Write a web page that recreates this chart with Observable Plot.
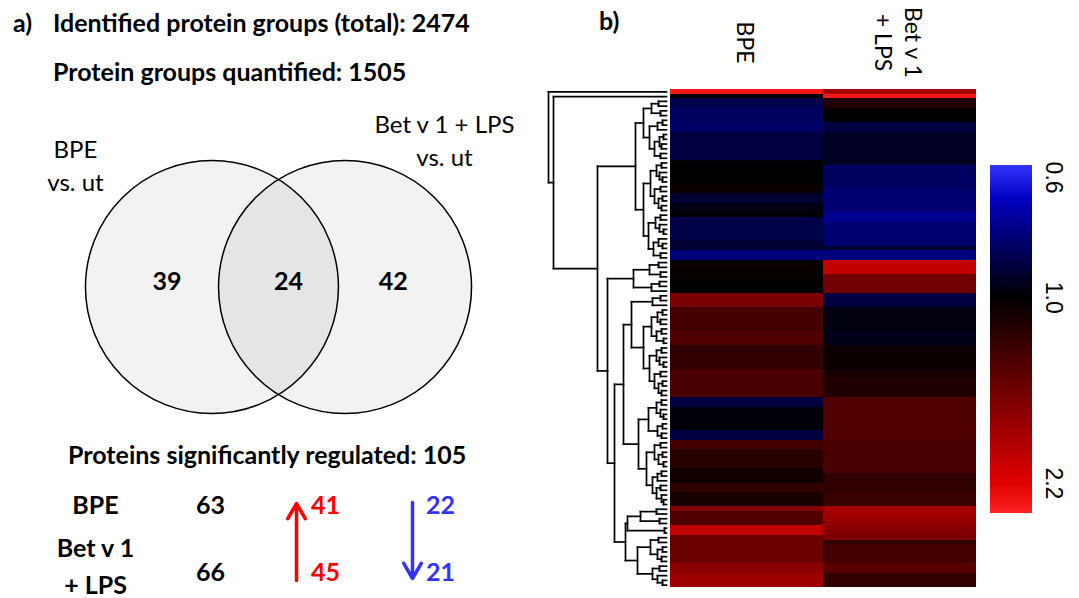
<!DOCTYPE html>
<html>
<head>
<meta charset="utf-8">
<script src="https://cdn.jsdelivr.net/npm/d3@7"></script>
<script src="https://cdn.jsdelivr.net/npm/@observablehq/plot@0.6"></script>
<style>
  html, body { margin: 0; padding: 0; background: #fff; }
  #fig { position: relative; width: 1079px; height: 598px; overflow: hidden; font-family: Lato, sans-serif; color: #000; }
  .t { position: absolute; white-space: pre; font-weight: bold; font-size: 25px; line-height: 1; }
  #fig svg { position: absolute; top: 0; max-width: none; }
</style>
</head>
<body>
<div id="fig"></div>
<script>
// ---------------- data ----------------
const identifiedTotal = 2474;
const quantifiedTotal = 1505;
const significantTotal = 105;

const vennSets = ["BPE\nvs. ut", "Bet v 1 + LPS\nvs. ut"];
const vennRegions = ["BPE only", "both", "Bet v 1 + LPS only"];
const vennCounts = [39, 24, 42];

const regTreatments = ["BPE", "Bet v 1\n+ LPS"];
const regColumns = ["treatment", "total", "up", "down"];
const regTotal = [63, 66];
const regUp = [41, 45];
const regDown = [22, 21];

const heatColumns = ["BPE", "Bet v 1\n+ LPS"];
// fold change per protein (rows top to bottom)
const bpeFold = [
  2.4, 1.0, 0.85, 0.85, 0.82, 0.81, 0.81, 0.80, 0.80,
  0.87, 0.87, 0.87, 0.87, 0.87, 0.87,
  0.99, 1.0, 1.0, 1.01, 1.0, 1.04, 1.04, 0.90, 0.90, 0.96, 0.96, 1.0,
  0.86, 0.86, 0.86, 0.86, 0.86, 0.90, 0.90, 0.77, 0.77,
  1.04, 1.04, 1.03, 1.02, 1.0, 1.0, 1.0,
  1.54, 1.54, 1.52, 1.26, 1.26, 1.26, 1.26, 1.26, 1.33, 1.33, 1.33,
  1.19, 1.19, 1.19, 1.19, 1.19, 1.30, 1.30, 1.30, 1.30, 1.30, 1.30,
  0.87, 0.87, 0.98, 0.98, 0.98, 0.98, 0.98, 0.87, 0.87,
  1.26, 1.26, 1.15, 1.15, 1.15, 1.15, 1.06, 1.06, 1.06, 1.19, 1.19, 1.09, 1.09, 1.09,
  1.58, 1.33, 1.33, 1.33, 1.99, 1.99,
  1.45, 1.45, 1.45, 1.45, 1.45, 1.45, 1.63, 1.63, 1.73, 1.73, 1.73
];
const betFold = [
  1.78, 2.4, 1.12, 1.12, 1.0, 1.0, 1.0, 0.87, 0.87,
  0.93, 0.93, 0.93, 0.93, 0.93, 0.93, 0.93,
  0.81, 0.81, 0.81, 0.81, 0.81, 0.78, 0.78, 0.78, 0.78, 0.78,
  0.73, 0.73, 0.78, 0.78, 0.78, 0.78, 0.78, 0.90, 0.76, 0.76,
  1.99, 1.99, 1.99, 1.50, 1.50, 1.50, 1.50,
  0.87, 0.87, 0.87, 0.97, 0.97, 0.97, 0.97, 0.97, 0.95, 0.95, 0.95,
  1.04, 1.04, 1.04, 1.04, 1.04, 1.09, 1.09, 1.12, 1.12, 1.12, 1.12,
  1.33, 1.33, 1.33, 1.33, 1.33, 1.33, 1.33, 1.33, 1.33,
  1.30, 1.30, 1.30, 1.30, 1.30, 1.30, 1.30, 1.19, 1.19, 1.19, 1.19, 1.22, 1.22, 1.22,
  1.78, 1.78, 1.72, 1.68, 1.62, 1.58, 1.55, 1.19,
  1.26, 1.26, 1.26, 1.26, 1.37, 1.37, 1.19, 1.19, 1.19
];
// hierarchical clustering: [merge height, left, right]; numbers are row indices
const dendrogram =
[118, 0,
 [113, 1,
  [69,
   [31,
    [23,
     [15, [8, 2, 3], [6, 4, 5]],
     [17, [9, [4, 6, 7], 8], [12, [7, [3, 9, 10], [5, 11, 12]], [6, 13, 14]]]
    ],
    [23,
     [16, [10, [5, 15, 16], [7, 17, [4, 18, 19]]], [12, [6, 20, 21], [8, [4, 22, 23], [5, 24, 25]]]],
     [18, [11, [6, 26, 27], [7, 28, [3, 29, 30]]], [13, [8, 31, [4, 32, 33]], [6, 34, 35]]]
    ]
   ],
   [59,
    [33, [17, [8, 36, 37], [6, 38, 39]], [15, [7, 40, 41], 42]],
    [52,
     [43,
      [35,
       [14, [6, 43, 44], 45],
       [23,
        [15, [9, [4, 46, 47], [6, 48, 49]], [10, [5, 50, 51], [3, 52, 53]]],
        [17, [10, [5, 54, 55], [7, 56, [3, 57, 58]]], [12, [6, 59, 60], [8, [4, 61, 62], [5, 63, 64]]]]
       ]
      ],
      [28,
       [18, [10, [5, 65, 66], [6, 67, [3, 68, 69]]], [9, [4, 70, 71], [5, 72, 73]]],
       [20, [12, [6, 74, 75], [8, [4, 76, 77], [3, 78, 79]]], [14, [9, [5, 80, 81], 82], [10, [6, 83, 84], [5, 85, [3, 86, 87]]]]]
      ]
     ],
     [41,
      [39, [26, [10, 88, 89], [7, 90, 91]], [2, 92, 93]],
      [29, [16, [8, 94, 95], [9, [4, 96, 97], [5, 98, 99]]], [14, [7, 100, 101], [9, 102, [4, 103, 104]]]]
     ]
    ]
   ]
  ]
 ]
];
const colorTicks = [0.6, 1.0, 2.2];
const colorDomain = [0.57, 0.66, 1, 2.2, 2.5];
const colorRange = ["#3333ff", "#0000c0", "#000000", "#e00000", "#ff2222"];

// ---------------- layout ----------------
const fig = document.getElementById("fig");
const FONT = "Lato, sans-serif";
const BOLD = 25;
const place = (svg, left) => { svg.style.left = left + "px"; svg.style.top = "0px"; svg.style.background = "transparent"; svg.style.overflow = "visible"; fig.appendChild(svg); };
const colorScale = {type: "log", domain: colorDomain, range: colorRange, interpolate: "rgb"};

function addText(txt, left, center, size = BOLD) {
  const d = document.createElement("div");
  d.className = "t";
  d.textContent = txt;
  d.style.left = left + "px";
  d.style.top = (center - 0.527 * size) + "px";
  d.style.fontSize = size + "px";
  fig.appendChild(d);
}
addText("a)", 13, 23);
addText(`Identified protein groups (total): ${identifiedTotal}`, 53, 23);
addText(`Protein groups quantified: ${quantifiedTotal}`, 53, 72);
addText("b)", 599, 21);
addText(`Proteins significantly regulated: ${significantTotal}`, 68, 455);

// ---- Venn diagram (units of circle radius) ----
const R = 126.5;
const vennCenters = [-0.526, 0.526];
const vennCountPos = [[-0.881, -0.04], [0.079, -0.04], [0.907, -0.04]];
const vennLabelPos = [[-1.605, -0.972], [1.312, -1.170]];
const venn = Plot.plot({
  width: 540, height: 598, margin: 0,
  x: {domain: [-278 / R, 262 / R], axis: null},
  y: {domain: [-286.5 / R, 311.5 / R], reverse: true, axis: null},
  marks: [
    Plot.dot(vennSets, {x: (d, i) => vennCenters[i], y: () => 0, r: R, fill: "black", fillOpacity: 0.05, stroke: "black", strokeWidth: 1.5}),
    Plot.text(vennCounts, {x: (d, i) => vennCountPos[i][0], y: (d, i) => vennCountPos[i][1], text: d => String(d), fontSize: BOLD, fontWeight: "bold", fontFamily: FONT, fill: "black", lineAnchor: "middle"}),
    Plot.text(vennSets, {x: (d, i) => vennLabelPos[i][0], y: (d, i) => vennLabelPos[i][1], text: d => d, fontSize: 24, lineHeight: 1.375, fontFamily: FONT, fill: "black", lineAnchor: "middle"})
  ]
});
place(venn, 0);

// ---- regulation table ----
const tstyle = {fontSize: BOLD, fontWeight: "bold", fontFamily: FONT, lineAnchor: "middle"};
const tbl = Plot.plot({
  width: 540, height: 598, margin: 0,
  x: {type: "point", domain: regColumns, range: [94, 440], padding: 0, axis: null},
  y: {type: "point", domain: regTreatments, range: [505, 572], padding: 0, axis: null},
  marks: [
    Plot.text([regTreatments[0]], {x: () => "treatment", y: d => d, text: d => d, ...tstyle}),
    Plot.text([regTreatments[1]], {x: () => "treatment", y: d => d, dy: -9, text: d => d, lineHeight: 1.5, ...tstyle}),
    Plot.text(regTreatments, {x: () => "total", y: d => d, text: (d, i) => String(regTotal[i]), ...tstyle}),
    Plot.text(regTreatments, {x: () => "up", y: d => d, text: (d, i) => String(regUp[i]), fill: "#ff0000", ...tstyle}),
    Plot.text(regTreatments, {x: () => "down", y: d => d, text: (d, i) => String(regDown[i]), fill: "#3333ff", ...tstyle}),
    Plot.arrow([{col: "up"}], {x1: d => d.col, x2: d => d.col, y1: () => regTreatments[1], y2: () => regTreatments[0], dx: -29, insetStart: -8, insetEnd: -2, stroke: "#ff0000", strokeWidth: 3.5, headLength: 7.5}),
    Plot.arrow([{col: "down"}], {x1: d => d.col, x2: d => d.col, y1: () => regTreatments[0], y2: () => regTreatments[1], dx: -28, insetStart: -3, insetEnd: -6, stroke: "#3333ff", strokeWidth: 3.5, headLength: 7.5})
  ]
});
place(tbl, 0);

// ---- dendrogram ----
const segs = [];
function walk(node) {
  if (typeof node === "number") return {h: 0, y: node};
  const [h, a, b] = node;
  const A = walk(a), B = walk(b);
  segs.push({x1: h, y1: A.y, x2: h, y2: B.y});
  segs.push({x1: h, y1: A.y, x2: A.h, y2: A.y});
  segs.push({x1: h, y1: B.y, x2: B.h, y2: B.y});
  return {h, y: (A.y + B.y) / 2};
}
walk(dendrogram);
const nRows = bpeFold.length;
const dendro = Plot.plot({
  width: 130, height: 598, marginTop: 89, marginBottom: 11, marginLeft: 8, marginRight: 4,
  x: {domain: [0, 118], reverse: true, axis: null},
  y: {domain: [-0.5, nRows - 0.5], reverse: true, axis: null},
  marks: [
    Plot.link(segs, {x1: "x1", y1: "y1", x2: "x2", y2: "y2", stroke: "black", strokeWidth: 1.7, strokeLinecap: "square"})
  ]
});
place(dendro, 540);

// ---- heatmap ----
const heatData = [];
bpeFold.forEach((v, i) => heatData.push({row: i, col: heatColumns[0], fold: v}));
betFold.forEach((v, i) => heatData.push({row: i, col: heatColumns[1], fold: v}));
const heat = Plot.plot({
  width: 306, height: 598, marginTop: 89, marginBottom: 11, marginLeft: 0, marginRight: 0,
  x: {domain: heatColumns, padding: 0, axis: null},
  y: {domain: d3.range(nRows), padding: 0, axis: null},
  color: colorScale,
  marks: [
    Plot.cell(heatData, {x: "col", y: "row", fill: "fold", inset: 0, shapeRendering: "crispEdges"}),
    Plot.text(heatColumns, {x: d => d, frameAnchor: "top", lineAnchor: "middle", textAnchor: "middle", dy: -47, rotate: 90, text: d => d, fontSize: 23, lineHeight: 1.3, fontFamily: FONT, fill: "black"})
  ]
});
place(heat, 670);

// ---- colour bar ----
const lo = Math.log(colorDomain[0]), hi = Math.log(colorDomain[colorDomain.length - 1]);
const N = 174;
const ramp = d3.range(N).map(k => ({
  y1: Math.exp(lo + (hi - lo) * k / N),
  y2: Math.exp(lo + (hi - lo) * (k + 1) / N),
  v: Math.exp(lo + (hi - lo) * (k + 0.5) / N)
}));
const cbar = Plot.plot({
  width: 99, height: 598, marginTop: 165, marginBottom: 85, marginLeft: 10, marginRight: 47,
  x: {domain: [0, 1], axis: null},
  y: {type: "log", domain: [colorDomain[0], colorDomain[colorDomain.length - 1]], reverse: true, axis: null},
  color: colorScale,
  marks: [
    Plot.rect(ramp, {x1: () => 0, x2: () => 1, y1: "y1", y2: "y2", fill: "v", shapeRendering: "crispEdges"}),
    Plot.text(colorTicks, {x: () => 1, y: d => d, dx: 21, rotate: 90, lineAnchor: "middle", text: d => d.toFixed(1), fontSize: 23, fontFamily: "Liberation Sans, sans-serif", fill: "black"})
  ]
});
place(cbar, 980);
</script>
</body>
</html>
